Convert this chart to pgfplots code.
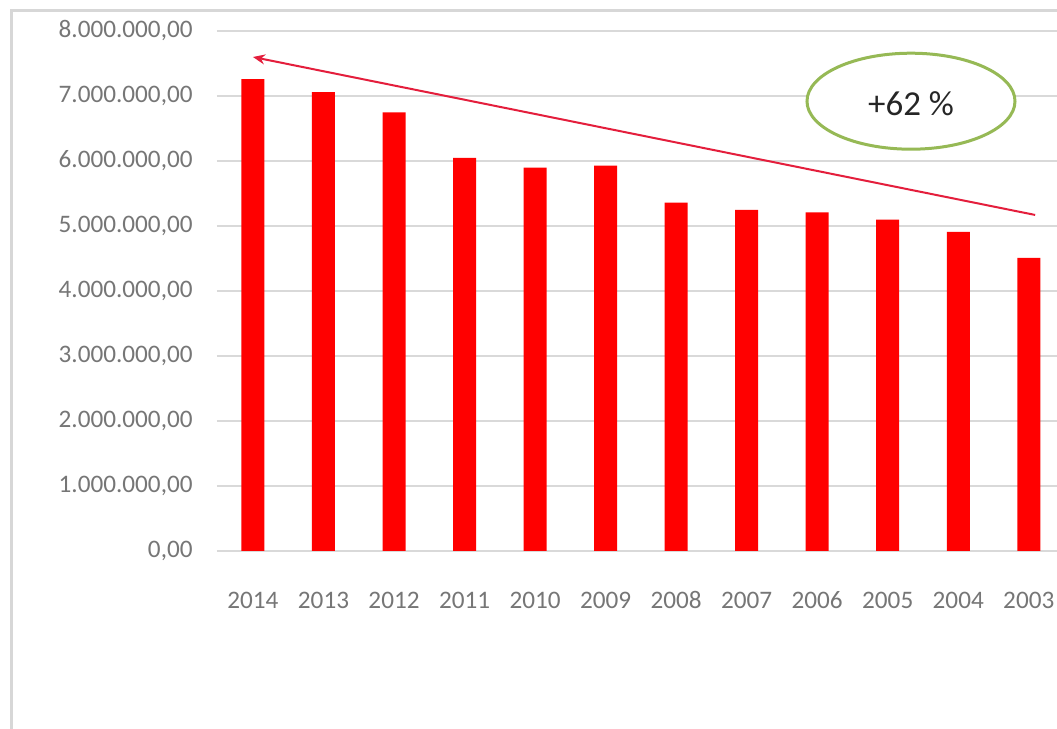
\documentclass[border=0pt]{standalone}
\usepackage{pgfplots}
\pgfplotsset{compat=1.18}
\usepackage{fontspec}
\setmainfont{Carlito}
\usetikzlibrary{arrows.meta}
\definecolor{gridgray}{RGB}{217,217,217}
\definecolor{ticklab}{RGB}{118,118,118}
\definecolor{arrowred}{RGB}{228,30,60}
\definecolor{olive}{RGB}{150,185,85}
\definecolor{framegray}{RGB}{215,215,215}
\begin{document}
\begin{tikzpicture}
\clip (-108.5pt,-89pt) rectangle (420pt,275.5pt);
\fill[white] (-108.5pt,-89pt) rectangle (420pt,275.5pt);
\draw[framegray, line width=1.5pt] (-102.5pt,-100pt) -- (-102.5pt,270pt) -- (440pt,270pt);
\begin{axis}[
  at={(0,0)}, anchor=south west,
  scale only axis,
  width=420pt, height=260pt,
  xmin=-0.51, xmax=11.40,
  ymin=0, ymax=8000000,
  ytick={0,1000000,2000000,3000000,4000000,5000000,6000000,7000000,8000000},
  scaled y ticks=false,
  xtick={0,1,2,3,4,5,6,7,8,9,10,11},
  xticklabels={2014,2013,2012,2011,2010,2009,2008,2007,2006,2005,2004,2003},
  axis line style={draw=none},
  tick style={draw=none},
  major tick length=0pt,
  ymajorgrids,
  grid style={gridgray, line width=0.75pt},
  /pgf/number format/assume math mode=true,
  yticklabel={\pgfmathprintnumber[fixed, fixed zerofill, precision=2, 1000 sep={.}, use comma]{\tick}},
  ticklabel style={font=\fontsize{12.6pt}{14pt}\selectfont, text=ticklab},
  yticklabel style={anchor=east, inner sep=0pt, xshift=-12pt},
  xticklabel style={anchor=base, inner sep=0pt, yshift=-28.5pt},
  clip=false,
]
\addplot[ybar, bar width=11.5pt, fill={rgb,255:red,255;green,0;blue,0}, draw=none] coordinates {
  (0,7260000) (1,7060000) (2,6750000) (3,6050000) (4,5900000) (5,5930000)
  (6,5360000) (7,5250000) (8,5210000) (9,5100000) (10,4910000) (11,4510000)
};
\draw[arrowred, line width=1pt, -{Stealth[length=6pt,width=5pt]}] (axis cs:11.09,5170000) -- (axis cs:0,7600000);
\draw[olive, line width=1.5pt, fill=white] (axis cs:9.33,6920000) ellipse [x radius=52pt, y radius=24pt];
\node[text={rgb,255:red,38;green,38;blue,38}, font=\fontsize{17.5pt}{20pt}\selectfont] at (axis cs:9.33,6880000) {+62 \%};
\end{axis}
\end{tikzpicture}
\end{document}
